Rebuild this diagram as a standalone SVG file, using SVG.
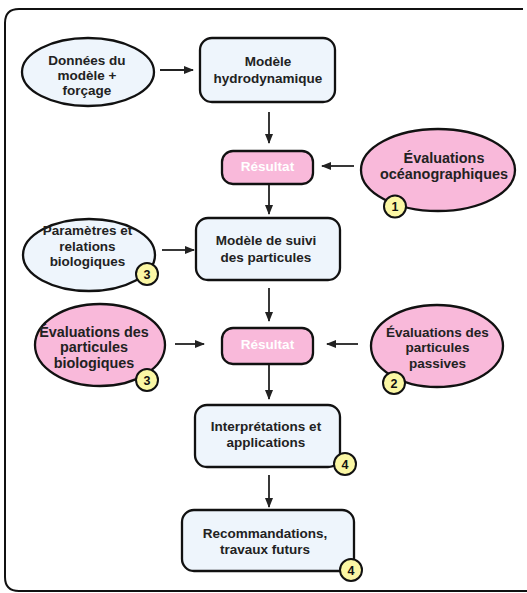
<svg xmlns="http://www.w3.org/2000/svg" width="527" height="593" viewBox="0 0 527 593">
<defs>
<marker id="ah" markerWidth="10" markerHeight="8" refX="9" refY="4" orient="auto" markerUnits="userSpaceOnUse">
<path d="M0,0 L10,4 L0,8 Z" fill="#222"/>
</marker>
<style>
.blue{fill:#eef5fc;stroke:#111;stroke-width:2.3}
.pink{fill:#f9b9da;stroke:#111;stroke-width:2.3}
.badge{fill:#fbf7a4;stroke:#111;stroke-width:2}
.t{font-family:"Liberation Sans",Arial,sans-serif;font-weight:bold;font-size:13.5px;fill:#222;text-anchor:middle}
.big{font-size:14.4px}
.w{fill:#ffffff}
.b{font-family:"Liberation Sans",Arial,sans-serif;font-weight:bold;font-size:12.5px;fill:#111;text-anchor:middle}
.c{stroke:#222;stroke-width:1.8;fill:none;marker-end:url(#ah)}
</style>
</defs>
<rect width="527" height="593" fill="#ffffff"/>
<path d="M523,9 L19,9 Q5,9 5,23 L5,577 Q5,591 19,591 L527,591" fill="none" stroke="#111" stroke-width="2"/>

<g id="connectors">
<line class="c" x1="160" y1="70" x2="193" y2="70"/>
<line class="c" x1="269" y1="112" x2="269" y2="143"/>
<line class="c" x1="354" y1="166" x2="322" y2="166"/>
<line class="c" x1="269" y1="185" x2="269" y2="214"/>
<line class="c" x1="162" y1="250" x2="194" y2="250"/>
<line class="c" x1="269" y1="288" x2="269" y2="321"/>
<line class="c" x1="175" y1="344" x2="204" y2="344"/>
<line class="c" x1="358" y1="344" x2="327" y2="344"/>
<line class="c" x1="269" y1="365" x2="269" y2="399"/>
<line class="c" x1="269" y1="475" x2="269" y2="507"/>
</g>

<g id="donnees">
<ellipse class="blue" cx="88" cy="72" rx="66" ry="34"/>
<text class="t" x="87" y="65">Données du</text>
<text class="t" x="87" y="80">modèle +</text>
<text class="t" x="87" y="95">forçage</text>
</g>

<g id="hydro">
<rect class="blue" x="200" y="38" width="135" height="64" rx="12"/>
<text class="t" x="268" y="65.7">Modèle</text>
<text class="t" x="268" y="82.7">hydrodynamique</text>
</g>

<g id="resultat1">
<rect class="pink" x="222" y="151" width="91" height="33" rx="11"/>
<text class="t w" x="267.5" y="170.5">Résultat</text>
</g>

<g id="evalOcean">
<ellipse class="pink" cx="438" cy="170" rx="77" ry="41"/>
<text class="t big" x="444" y="163.3">Évaluations</text>
<text class="t big" x="444" y="178.8">océanographiques</text>
<circle class="badge" cx="395" cy="206.5" r="11"/>
<text class="b" x="395" y="211">1</text>
</g>

<g id="params">
<ellipse class="blue" cx="89" cy="255" rx="66" ry="36"/>
<text class="t" x="87.5" y="235">Paramètres et</text>
<text class="t" x="87.5" y="250.7">relations</text>
<text class="t" x="87.5" y="266.4">biologiques</text>
<circle class="badge" cx="147" cy="274" r="11"/>
<text class="b" x="147" y="278.5">3</text>
</g>

<g id="suivi">
<rect class="blue" x="196" y="218" width="144" height="62" rx="12"/>
<text class="t" x="266" y="245">Modèle de suivi</text>
<text class="t" x="266" y="261.7">des particules</text>
</g>

<g id="resultat2">
<rect class="pink" x="222" y="328" width="91" height="36" rx="11"/>
<text class="t w" x="267.5" y="349">Résultat</text>
</g>

<g id="evalBio">
<ellipse class="pink" cx="100" cy="345" rx="65" ry="41"/>
<text class="t big" x="94" y="336.5">Évaluations des</text>
<text class="t big" x="94" y="352.3">particules</text>
<text class="t big" x="94" y="368.1">biologiques</text>
<circle class="badge" cx="147" cy="380" r="11"/>
<text class="b" x="147" y="384.5">3</text>
</g>

<g id="evalPassive">
<ellipse class="pink" cx="437" cy="346" rx="66" ry="41"/>
<text class="t" x="437.5" y="336.5">Évaluations des</text>
<text class="t" x="437.5" y="352.3">particules</text>
<text class="t" x="437.5" y="368.1">passives</text>
<circle class="badge" cx="394" cy="383" r="11"/>
<text class="b" x="394" y="387.5">2</text>
</g>

<g id="interp">
<rect class="blue" x="195" y="405" width="145" height="62" rx="12"/>
<text class="t" x="266" y="430.7">Interprétations et</text>
<text class="t" x="266" y="446.7">applications</text>
<circle class="badge" cx="345" cy="464" r="11"/>
<text class="b" x="345" y="468.5">4</text>
</g>

<g id="recomm">
<rect class="blue" x="182" y="510" width="172" height="61" rx="12"/>
<text class="t" x="265" y="538.3">Recommandations,</text>
<text class="t" x="265" y="554">travaux futurs</text>
<circle class="badge" cx="351" cy="570" r="11"/>
<text class="b" x="351" y="574.5">4</text>
</g>
</svg>
